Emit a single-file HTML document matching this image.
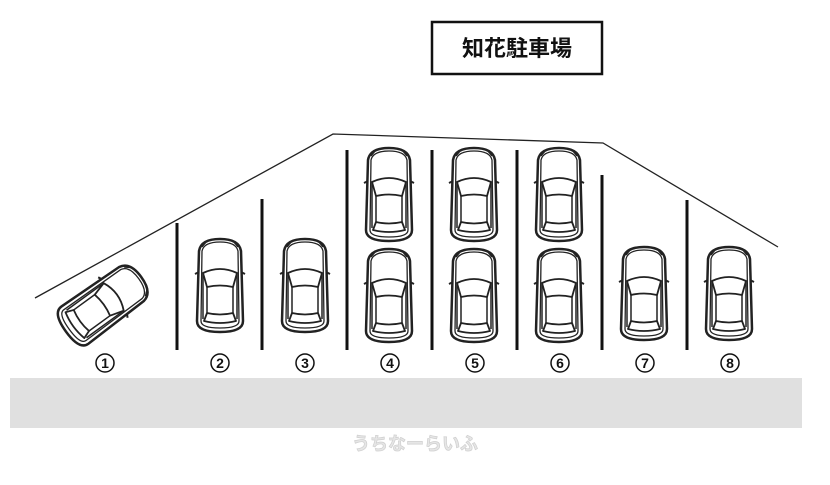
<!DOCTYPE html>
<html><head><meta charset="utf-8"><style>
body{margin:0;background:#fff;width:830px;height:480px;overflow:hidden}
</style></head><body>
<svg width="830" height="480" viewBox="0 0 830 480" xmlns="http://www.w3.org/2000/svg">
<defs>
<g id="car" fill="none" stroke="#222" stroke-linejoin="round">
  <path d="M6 14 Q8 2 27 2 Q46 2 48 14 L50 84 Q50 95 27 95 Q4 95 4 84 Z" stroke-width="2.5" fill="#fff"/>
  <path d="M9 14 Q11 5 27 5 Q43 5 45 14 L46 84 Q46 91 27 91 Q8 91 8 84 Z" stroke-width="1.3"/>
  <path d="M10 36 Q27 28 44 36 L40 50 Q27 47 14 50 Z" stroke-width="1.8"/>
  <path d="M14 50 L14 76 M40 50 L40 76" stroke-width="1.5"/>
  <path d="M10 36 L10 82 M44 36 L44 82" stroke-width="1.5"/>
  <path d="M14 76 Q27 79 40 76 L43 84 Q27 88 11 84 Z" stroke-width="1.8"/>
  <path d="M6 35 L2 37 M48 35 L52 37" stroke-width="2"/>
  <path d="M9 10 L14 4 M45 10 L40 4" stroke-width="1.3"/>
</g>
</defs>
<rect x="432" y="22" width="170" height="52" fill="#fff" stroke="#111" stroke-width="2.5"/>
<text x="517" y="56" text-anchor="middle" font-family="'Liberation Sans','Noto Sans CJK JP',sans-serif" font-weight="bold" font-size="22" fill="#111">知花駐車場</text>
<polyline points="35,298 333,134 603,143 778,247" fill="none" stroke="#222" stroke-width="1.3"/>
<g stroke="#111" stroke-width="3">
<line x1="177" y1="223" x2="177" y2="350"/>
<line x1="262" y1="199" x2="262" y2="350"/>
<line x1="347" y1="150" x2="347" y2="350"/>
<line x1="432" y1="150" x2="432" y2="350"/>
<line x1="517" y1="150" x2="517" y2="350"/>
<line x1="602" y1="175" x2="602" y2="350"/>
<line x1="687" y1="200" x2="687" y2="350"/>
</g>
<use href="#car" transform="translate(193,237)"/>
<use href="#car" transform="translate(278,237)"/>
<use href="#car" transform="translate(362,146)"/>
<use href="#car" transform="translate(362,247)"/>
<use href="#car" transform="translate(447,146)"/>
<use href="#car" transform="translate(447,247)"/>
<use href="#car" transform="translate(532,146)"/>
<use href="#car" transform="translate(532,247)"/>
<use href="#car" transform="translate(617,245)"/>
<use href="#car" transform="translate(702,245)"/>
<use href="#car" transform="translate(104,304) rotate(54) translate(-27,-48)"/>
<g fill="none" stroke="#111" stroke-width="1.5">
<circle cx="105" cy="363" r="9"/><circle cx="220" cy="363" r="9"/><circle cx="305" cy="363" r="9"/><circle cx="390" cy="363" r="9"/>
<circle cx="475" cy="363" r="9"/><circle cx="560" cy="363" r="9"/><circle cx="645" cy="363" r="9"/><circle cx="730" cy="363" r="9"/>
</g>
<g font-family="'Liberation Sans',sans-serif" font-size="14" font-weight="bold" fill="#111" text-anchor="middle">
<text x="105" y="368">1</text><text x="220" y="368">2</text><text x="305" y="368">3</text><text x="390" y="368">4</text>
<text x="475" y="368">5</text><text x="560" y="368">6</text><text x="645" y="368">7</text><text x="730" y="368">8</text>
</g>
<rect x="10" y="378" width="792" height="50" fill="#e0e0e0"/>
<text x="415" y="450" text-anchor="middle" font-family="'Liberation Sans','Noto Sans CJK JP',sans-serif" font-weight="bold" font-size="18" fill="#e6e6e6" stroke="#cfcfcf" stroke-width="0.7">うちなーらいふ</text>
</svg>
</body></html>
